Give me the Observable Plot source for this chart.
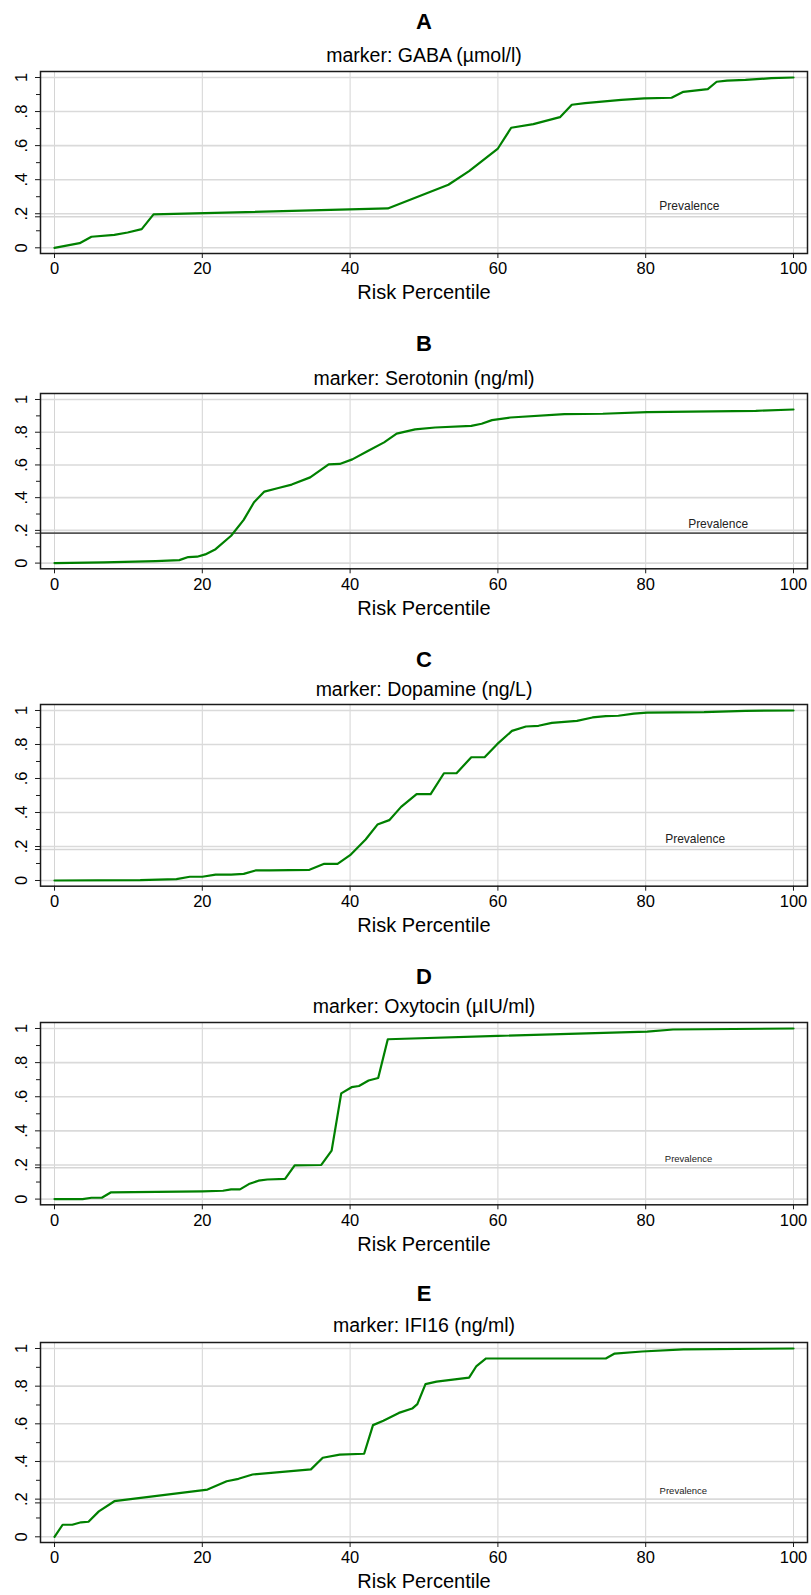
<!DOCTYPE html>
<html><head><meta charset="utf-8">
<script src="https://cdn.jsdelivr.net/npm/d3@7"></script>
<script src="https://cdn.jsdelivr.net/npm/@observablehq/plot@0.6"></script>
<style>
body{margin:0;background:#fff;font-family:"Liberation Sans",Arial,sans-serif;}
#root{position:relative;width:811px;height:1595px;overflow:hidden;}
.t{position:absolute;left:0;width:848px;text-align:center;color:#000;white-space:nowrap;line-height:1;}
.letter{font-weight:bold;font-size:22px;}
.sub{font-size:19.5px;}
.panel{position:absolute;left:0;}
</style></head><body><div id="root"></div>
<script>
// ---- data ----
const riskTicks = [0, 20, 40, 60, 80, 100];
const yTicks = [0, 0.2, 0.4, 0.6, 0.8, 1];
const yTickLabels = ["0", ".2", ".4", ".6", ".8", "1"];
const yMinorTicks = [0.1, 0.3, 0.5, 0.7, 0.9];
const xAxisTitle = "Risk Percentile";
const prevalenceText = "Prevalence";
const panelLetters = ["A", "B", "C", "D", "E"];
const markerNames = ["marker: GABA (µmol/l)", "marker: Serotonin (ng/ml)", "marker: Dopamine (ng/L)", "marker: Oxytocin (µIU/ml)", "marker: IFI16 (ng/ml)"];

const gabaX = [0,3.4,5.0,8.1,9.9,11.8,13.4,45.1,53.3,56.1,60.0,61.8,64.8,68.4,70.0,71.8,76.7,79.8,83.5,85.1,88.4,89.6,91.0,93.5,97.0,100];
const gabaY = [0,0.027,0.065,0.076,0.09,0.11,0.196,0.231,0.37,0.45,0.583,0.705,0.726,0.767,0.84,0.849,0.869,0.877,0.881,0.916,0.932,0.975,0.982,0.986,0.996,1.0];

const serotoninX = [0,6.7,13.7,16.9,18.1,19.3,20.4,21.8,23.9,25.6,27.0,28.4,30.3,32.1,34.6,37.1,38.6,40.3,42.4,44.6,46.3,48.8,51.5,56.4,57.8,59.2,61.7,69.0,74.2,80.2,94.9,100];
const serotoninY = [0,0.004,0.012,0.018,0.037,0.039,0.053,0.085,0.167,0.264,0.372,0.437,0.459,0.48,0.524,0.604,0.606,0.634,0.685,0.738,0.791,0.817,0.829,0.839,0.852,0.874,0.89,0.911,0.913,0.923,0.931,0.939];

const dopamineX = [0,11.6,16.5,18.3,20.0,21.8,23.9,25.6,27.2,29.1,34.5,36.5,38.3,40.0,42.1,43.7,45.3,46.9,49.0,50.9,52.7,54.4,56.4,58.2,59.9,61.9,63.8,65.5,67.3,70.7,72.8,74.6,76.3,78.4,80.2,87.9,93.5,100];
const dopamineY = [0,0.002,0.008,0.022,0.022,0.035,0.035,0.039,0.059,0.059,0.063,0.098,0.098,0.149,0.241,0.329,0.355,0.433,0.508,0.508,0.631,0.631,0.725,0.725,0.802,0.88,0.906,0.91,0.927,0.939,0.959,0.967,0.969,0.982,0.988,0.99,0.998,1.0];

const oxytocinX = [0,3.8,5.0,6.4,7.6,20.0,22.8,23.9,25.1,26.3,27.6,28.8,31.2,32.5,36.1,37.5,38.8,40.2,41.2,42.5,43.8,45.1,60.0,80.2,83.7,100];
const oxytocinY = [0,0,0.008,0.008,0.039,0.045,0.049,0.057,0.057,0.088,0.108,0.115,0.119,0.198,0.2,0.284,0.62,0.656,0.663,0.695,0.71,0.937,0.957,0.982,0.994,1.0];

const ifi16X = [0,1.1,2.4,3.6,4.6,6.0,8.1,20.7,23.3,24.9,26.8,34.7,36.3,38.6,41.9,43.1,44.5,46.6,48.4,49.1,50.2,51.7,56.1,57.1,58.4,74.6,75.8,79.5,85.1,100];
const ifi16Y = [0,0.064,0.064,0.077,0.08,0.135,0.189,0.251,0.295,0.308,0.331,0.358,0.42,0.436,0.441,0.593,0.616,0.658,0.681,0.705,0.811,0.824,0.845,0.907,0.947,0.947,0.973,0.984,0.995,1.0];

const prevalence = [0.182, 0.183, 0.182, 0.184, 0.180];
const prevLabelX = [85.9, 89.8, 86.7, 85.8, 85.1];
const prevLabelY = [0.247, 0.236, 0.245, 0.238, 0.246];

const seriesX = [gabaX, serotoninX, dopamineX, oxytocinX, ifi16X];
const seriesY = [gabaY, serotoninY, dopamineY, oxytocinY, ifi16Y];

// ---- layout (pixels) ----
const layout = [
  {frameTop: 70.7,  frameBottom: 252.7,  titleY: 22.2,   subY: 56.0,   prevColor: "#d6d6d6", prevWidth: 1.4, labelSize: 12},
  {frameTop: 392.7, frameBottom: 568.0,  titleY: 343.3,  subY: 379.0,  prevColor: "#555555", prevWidth: 1.6, labelSize: 12},
  {frameTop: 704.3, frameBottom: 886.0,  titleY: 660.0,  subY: 689.8,  prevColor: "#d6d6d6", prevWidth: 1.4, labelSize: 12},
  {frameTop: 1021.7,frameBottom: 1204.0, titleY: 977.2,  subY: 1006.8, prevColor: "#d6d6d6", prevWidth: 1.4, labelSize: 9.5},
  {frameTop: 1342.0,frameBottom: 1542.0, titleY: 1294.0, subY: 1325.8, prevColor: "#d6d6d6", prevWidth: 1.4, labelSize: 9.5}
];

const root = document.getElementById("root");
const FONT = '"Liberation Sans", Arial, Helvetica, sans-serif';

panelLetters.forEach((letter, i) => {
  const L = layout[i];
  const title = document.createElement("div");
  title.className = "t letter";
  title.textContent = letter;
  title.style.top = (L.titleY - 0.49 * 22) + "px";
  root.appendChild(title);

  const sub = document.createElement("div");
  sub.className = "t sub";
  sub.textContent = markerNames[i];
  sub.style.top = (L.subY - 0.49 * 19.5) + "px";
  root.appendChild(sub);

  const data = seriesX[i].map((x, k) => ({x, y: seriesY[i][k]}));
  const mt = 6, mb = 56;
  const fh = L.frameBottom - L.frameTop;
  const chart = Plot.plot({
    width: 811,
    height: mt + fh + mb,
    marginTop: mt, marginBottom: mb, marginLeft: 40, marginRight: 4,
    x: {type: "linear", domain: [0, 100], insetLeft: 14, insetRight: 14},
    y: {type: "linear", domain: [0, 1], insetTop: 6, insetBottom: 5.7},
    style: {fontFamily: FONT, fontSize: "16px", color: "#000", background: "transparent", overflow: "visible"},
    marks: [
      Plot.gridX(riskTicks, {stroke: "#d4d4d4", strokeOpacity: 1, strokeWidth: 1}),
      Plot.gridY(yTicks, {stroke: "#dadada", strokeOpacity: 1, strokeWidth: 1.6}),
      Plot.ruleY([prevalence[i]], {stroke: L.prevColor, strokeWidth: L.prevWidth}),
      Plot.line(data, {x: "x", y: "y", stroke: "#008000", strokeWidth: 2.2, strokeLinejoin: "round"}),
      Plot.text([prevalenceText], {x: prevLabelX[i], y: prevLabelY[i], text: d => d, fontSize: L.labelSize, fill: "#222", textAnchor: "middle", lineAnchor: "middle"}),
      Plot.frame({stroke: "#1a1a1a", strokeWidth: 1.5}),
      Plot.axisX(riskTicks, {tickSize: 5, tickFormat: () => "", label: null, stroke: "#1a1a1a"}),
      Plot.axisY(yTicks, {tickSize: 5, tickFormat: () => "", label: null, stroke: "#1a1a1a"}),
      Plot.axisY(yMinorTicks, {tickSize: 4, tickFormat: () => "", label: null, stroke: "#1a1a1a"}),
      Plot.axisY([prevalence[i]], {tickSize: 5, tickFormat: () => "", label: null, stroke: "#1a1a1a"}),
      Plot.text(riskTicks, {x: d => d, text: d => String(d), frameAnchor: "bottom", dy: 15.5, lineAnchor: "middle", fontSize: 16.5, fill: "#000"}),
      Plot.text(yTicks, {y: d => d, text: (d, k) => yTickLabels[k], frameAnchor: "left", dx: -18.5, rotate: -90, textAnchor: "middle", lineAnchor: "middle", fontSize: 16.5, fill: "#000"}),
      Plot.text([xAxisTitle], {text: d => d, frameAnchor: "bottom", dy: 39.5, lineAnchor: "middle", fontSize: 20, fill: "#000"})
    ]
  });
  const wrap = document.createElement("div");
  wrap.className = "panel";
  wrap.style.top = (L.frameTop - mt) + "px";
  wrap.appendChild(chart);
  root.appendChild(wrap);
});
</script></body></html>
